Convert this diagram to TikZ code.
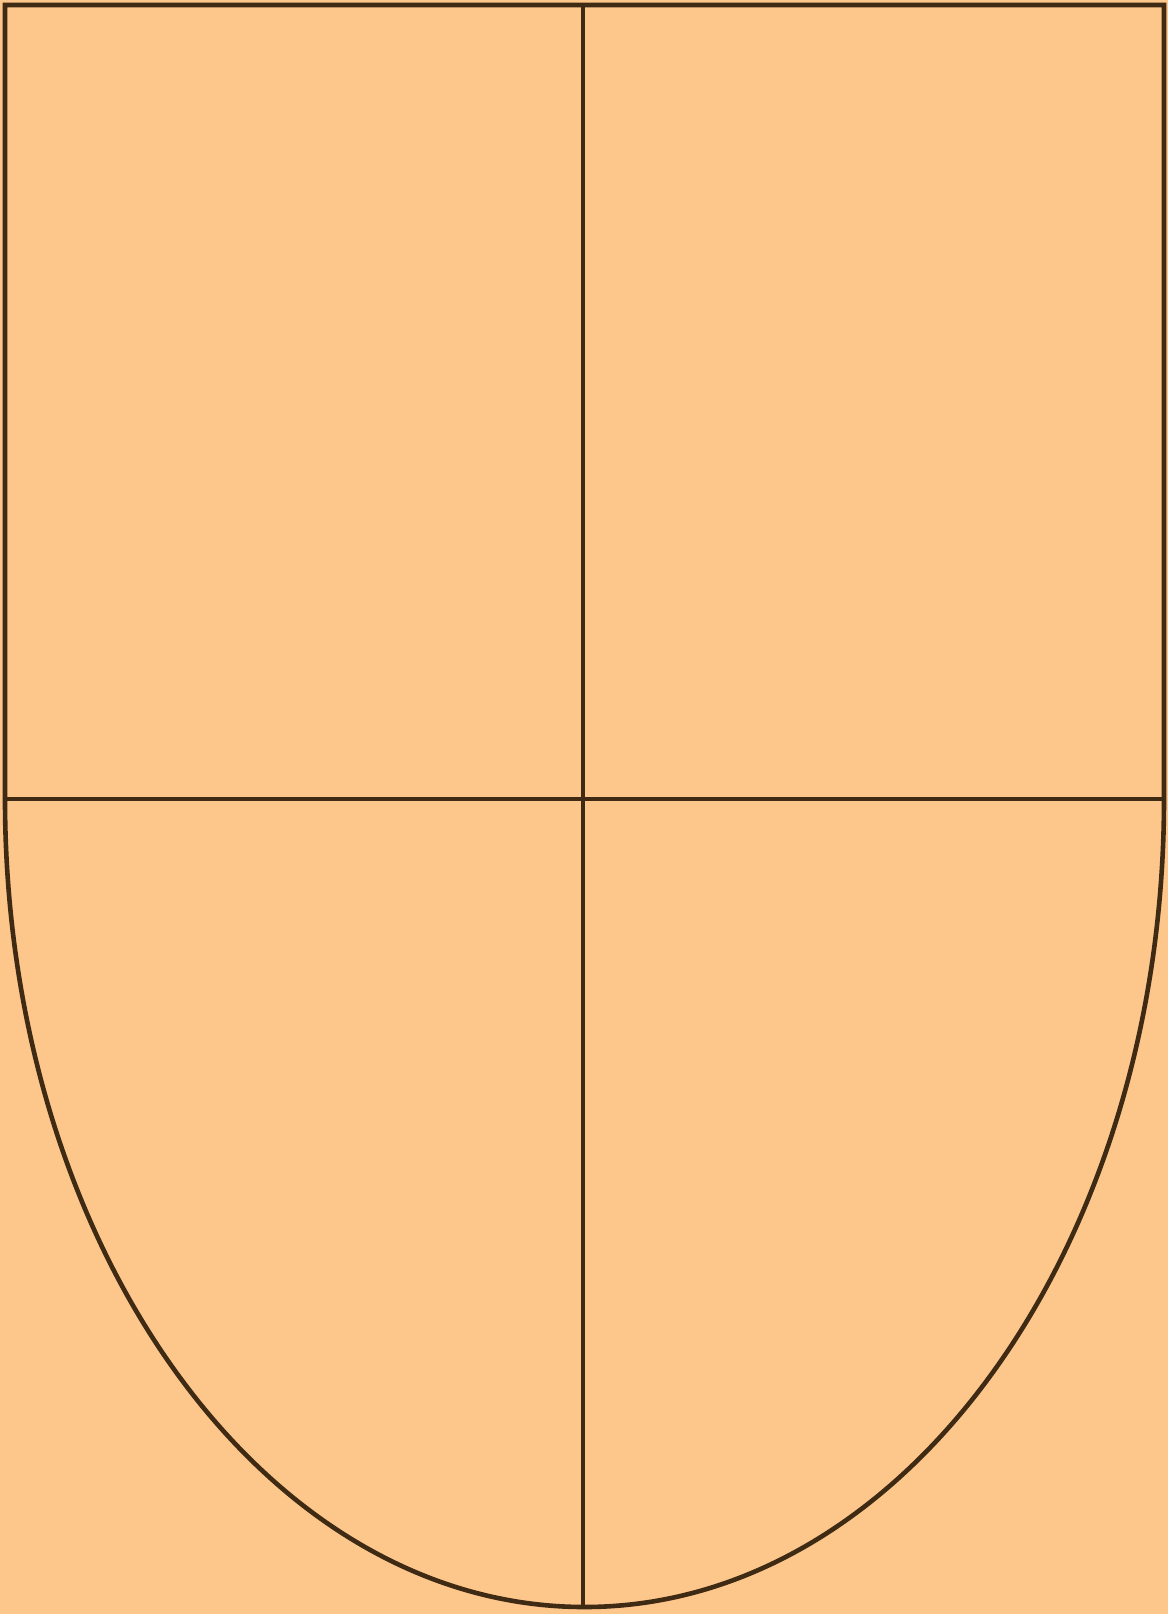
\documentclass[tikz,border=0pt]{standalone}
\definecolor{shieldfill}{HTML}{FDC68B}
\definecolor{shieldline}{HTML}{3F2A14}
\begin{document}
\begin{tikzpicture}[x=0.5pt,y=-0.5pt,line join=miter,
  shieldstroke/.style={draw=shieldline,line width=2.3pt}]
\fill[shieldfill] (0,0) rectangle (1168,1614);
\useasboundingbox (0,0) rectangle (1168,1614);
\draw[shieldstroke] (5,799) -- (5,5) -- (1164,5) -- (1164,799)
  arc[start angle=0,end angle=90,x radius=579.5,y radius=808]
  arc[start angle=90,end angle=180,x radius=579.5,y radius=808] -- cycle;
\draw[shieldstroke] (5,799) -- (1164,799);
\draw[shieldstroke] (583,5) -- (583,1607);
\end{tikzpicture}
\end{document}
